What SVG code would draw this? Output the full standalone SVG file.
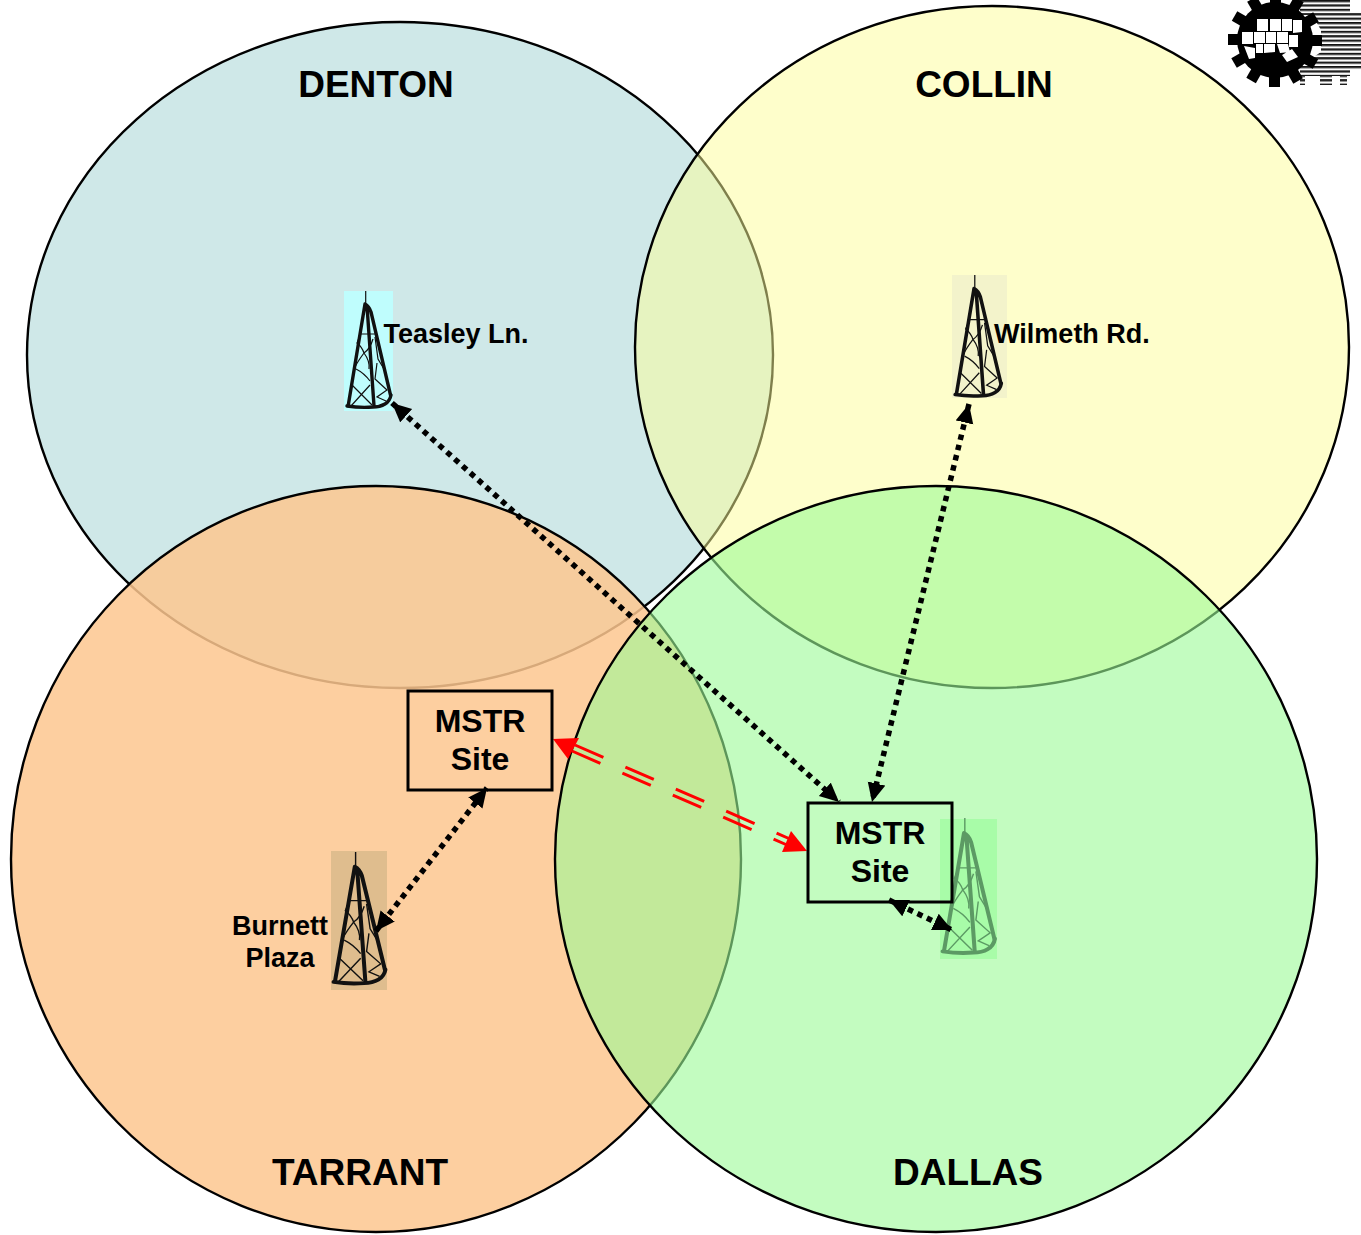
<svg xmlns="http://www.w3.org/2000/svg" xmlns:xlink="http://www.w3.org/1999/xlink" width="1361" height="1235" viewBox="0 0 1361 1235">
<style>
text{font-family:"Liberation Sans",Arial,sans-serif;font-weight:700;fill:#000;text-anchor:middle}
.county{font-size:37px}
.site{font-size:32px}
.label{font-size:27px}
.circle{stroke:#000;stroke-width:2.4}
.box{fill:none;stroke:#000;stroke-width:3}
.dot{fill:none;stroke:#000;stroke-width:5.5;stroke-dasharray:5.5 5}
.red{fill:none;stroke:#f00;stroke-width:3;stroke-dasharray:31 24}
.t1{fill:none;stroke-width:3.4;stroke-linejoin:round;stroke-linecap:round}
.t2{fill:none;stroke-width:1.2}
.tooth{fill:#000}
</style>
<defs>
<marker id="ah" markerUnits="userSpaceOnUse" markerWidth="22" markerHeight="20" refX="19" refY="9" orient="auto-start-reverse"><path d="M0 0L19 9L0 18z" fill="#000"/></marker>
<pattern id="stripes" patternUnits="userSpaceOnUse" width="8" height="4.4"><rect width="8" height="1.7" fill="#111"/><rect y="1.7" width="8" height="1" fill="#888"/></pattern>
<g id="tower">
<path class="t2" d="M21.7 0V13"/>
<path class="t1" d="M21 13L4.3 114M23 15L30 115M21 13Q25 15 27 21L46.5 104"/>
<path class="t1" stroke-width="3" d="M3 115Q16 117 29 116Q36 116 41 113Q46 110 47 104"/>
<path class="t2" d="M16 43H31M15 47L13 52Q18 56 20 62Q14 70 11 76M29 48Q26 58 20 62Q26 70 25 78M12 78Q20 82 26 90M8 94L28 114M7 115L26 94M31 46L34 68L40 78M33 72L31 88L43 99L33 106L42 110"/>
</g>
</defs>
<rect width="1361" height="1235" fill="#fff"/>
<g id="denton"><ellipse class="circle" cx="400" cy="355" rx="373" ry="333" fill="#cfe8e8"/></g>
<g id="collin"><ellipse class="circle" cx="992" cy="347" rx="357" ry="341" fill="#fdfd97" fill-opacity=".5"/></g>
<g id="tarrant"><ellipse class="circle" cx="376" cy="859" rx="365" ry="373" fill="#fdc78f" fill-opacity=".85"/></g>
<g id="dallas"><ellipse class="circle" cx="936" cy="859" rx="381" ry="373" fill="#9bfa96" fill-opacity=".6"/></g>
<g id="county-labels">
<text class="county" x="376" y="97">DENTON</text>
<text class="county" x="984" y="97">COLLIN</text>
<text class="county" x="360" y="1185">TARRANT</text>
<text class="county" x="968" y="1185">DALLAS</text>
</g>
<g id="tower-teasley"><rect x="344" y="291" width="49" height="120" fill="#bffdfd"/><use xlink:href="#tower" href="#tower" transform="translate(344 291)" stroke="#111"/><text class="label" x="456" y="343">Teasley Ln.</text></g>
<g id="tower-wilmeth"><rect x="952" y="275" width="55" height="123" fill="#f3f3cb"/><use xlink:href="#tower" href="#tower" transform="translate(952 275) scale(1.05 1.04)" stroke="#111"/><text class="label" x="1072" y="343">Wilmeth Rd.</text></g>
<g id="tower-burnett"><rect x="331" y="851" width="56" height="139" fill="#dfbd8e"/><use xlink:href="#tower" href="#tower" transform="translate(330 852) scale(1.18 1.13)" stroke="#111"/><text class="label" x="280" y="935">Burnett</text><text class="label" x="280" y="967">Plaza</text></g>
<g id="tower-dallas"><rect x="940" y="819" width="57" height="140" fill="#a8fca8"/><use xlink:href="#tower" href="#tower" transform="translate(939 818) scale(1.19 1.16)" stroke="#5c9a64"/></g>
<g id="connectors">
<path class="dot" d="M392 403L839 802" marker-start="url(#ah)" marker-end="url(#ah)"/>
<path class="dot" d="M969 404L872 802" marker-start="url(#ah)" marker-end="url(#ah)"/>
<path class="dot" d="M376 931L487 788" marker-start="url(#ah)" marker-end="url(#ah)"/>
<path class="dot" d="M889 900L952 930" marker-start="url(#ah)" marker-end="url(#ah)"/>
<path class="red" d="M575 745L790 839"/>
<path class="red" d="M572 751L787 845"/>
<path d="M553 739L579 738L568 759z" fill="#f00"/>
<path d="M807 851L782 852L791 831z" fill="#f00"/>
</g>
<g id="site-tarrant"><rect class="box" x="408" y="691" width="144" height="99"/><text class="site" x="480" y="732">MSTR</text><text class="site" x="480" y="770">Site</text></g>
<g id="site-dallas"><rect class="box" x="808" y="803" width="144" height="99"/><text class="site" x="880" y="844">MSTR</text><text class="site" x="880" y="882">Site</text></g>
<g id="logo">
<path d="M1300 0H1350V12H1361V70H1350V76H1347V85H1340V76H1332V85H1320V76H1305V85H1300V66L1321 52V30L1312 15H1300z" fill="url(#stripes)"/>
<circle cx="1275" cy="40" r="38" fill="#000"/>
<g>
<rect class="tooth" x="1270" y="-7" width="11" height="12"/>
<rect class="tooth" x="1270" y="-7" width="11" height="12" transform="rotate(30 1275 40)"/>
<rect class="tooth" x="1270" y="-7" width="11" height="12" transform="rotate(60 1275 40)"/>
<rect class="tooth" x="1270" y="-7" width="11" height="12" transform="rotate(90 1275 40)"/>
<rect class="tooth" x="1270" y="-7" width="11" height="12" transform="rotate(120 1275 40)"/>
<rect class="tooth" x="1270" y="-7" width="11" height="12" transform="rotate(150 1275 40)"/>
<rect class="tooth" x="1270" y="-7" width="11" height="12" transform="rotate(180 1275 40)"/>
<rect class="tooth" x="1270" y="-7" width="11" height="12" transform="rotate(210 1275 40)"/>
<rect class="tooth" x="1270" y="-7" width="11" height="12" transform="rotate(240 1275 40)"/>
<rect class="tooth" x="1270" y="-7" width="11" height="12" transform="rotate(270 1275 40)"/>
<rect class="tooth" x="1270" y="-7" width="11" height="12" transform="rotate(300 1275 40)"/>
<rect class="tooth" x="1270" y="-7" width="11" height="12" transform="rotate(330 1275 40)"/>
</g>
<path d="M1257 19H1268V31H1257zM1270 19H1281V31H1270zM1282 19H1292V31H1282zM1293 20H1302V32L1293 33zM1242 32H1253V44H1242zM1254 32H1265V43H1254zM1266 32H1276V43H1266zM1277 32H1288V43H1277zM1289 35H1298V47H1289zM1244 46L1255 48V58L1249 59zM1256 44H1263V53H1256zM1264 44H1275V52L1264 53zM1277 44H1288L1290 52L1280 53zM1282 55L1292 49L1298 57L1287 62z" fill="#fff"/>
</g>
</svg>
